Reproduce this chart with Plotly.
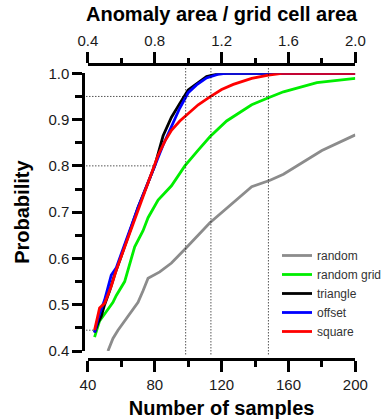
import plotly.graph_objects as go

# ---------------- data ----------------
random_x = [52, 55, 58, 61, 65, 70, 73, 76, 83, 90, 98, 113, 138, 149, 157, 165, 180, 200]
random_y = [0.40, 0.427, 0.445, 0.46, 0.478, 0.505, 0.53, 0.557, 0.571, 0.59, 0.62, 0.677,
            0.755, 0.769, 0.782, 0.80, 0.833, 0.867]

rgrid_x = [44, 47, 50, 55, 57, 62, 68, 73, 76, 82, 90, 98, 106, 113, 123, 138, 148, 157, 177, 200]
rgrid_y = [0.43, 0.465, 0.48, 0.505, 0.52, 0.55, 0.625, 0.66, 0.688, 0.726, 0.757, 0.80, 0.834,
           0.863, 0.897, 0.932, 0.947, 0.96, 0.98, 0.989]

tri_x = [44, 46, 48, 50, 53, 56, 60, 65, 70, 75, 80, 85, 90, 95, 100, 106, 111, 118, 123, 200]
tri_y = [0.44, 0.46, 0.475, 0.50, 0.53, 0.565, 0.605, 0.66, 0.71, 0.755, 0.80, 0.865, 0.905,
         0.935, 0.964, 0.98, 0.993, 0.999, 1.0, 1.0]

off_x = [44, 46, 48, 50, 54, 57, 60, 65, 70, 75, 80, 85, 90, 95, 100, 105, 111, 118, 123, 200]
off_y = [0.44, 0.47, 0.49, 0.51, 0.564, 0.58, 0.61, 0.66, 0.71, 0.755, 0.80, 0.845, 0.885,
         0.925, 0.958, 0.975, 0.99, 0.998, 1.0, 1.0]

sq_x = [44, 47, 50, 54, 57, 62, 66, 70, 75, 79, 82, 86, 90, 95, 100, 106, 113, 120, 127, 138,
        148, 156, 200]
sq_y = [0.445, 0.493, 0.503, 0.54, 0.575, 0.625, 0.665, 0.705, 0.755, 0.795, 0.823, 0.853,
        0.877, 0.897, 0.913, 0.932, 0.949, 0.965, 0.976, 0.989, 0.996, 1.0, 1.0]

series_names = ["random", "random grid", "triangle", "offset", "square"]
series_colors = ["#8c8c8c", "#00ee00", "#000000", "#0000ff", "#ff0000"]

x_range = [40, 200]
y_range = [0.4, 1.0]
x_ticks = [40, 80, 120, 160, 200]
y_ticks = [0.4, 0.5, 0.6, 0.7, 0.8, 0.9, 1.0]
top_range = [0.4, 2.0]
top_ticks = [0.4, 0.8, 1.2, 1.6, 2.0]

# reference (dotted) lines: probability levels and sample counts
ref_h = [(0.95, 148), (0.80, 79), (0.445, 44.3)]
ref_v = [98.5, 113.6, 148]

# ---------------- figure ----------------
W, H = 387, 419
FONT = "Liberation Sans, Arial, sans-serif"

fig = go.Figure()
series = [(random_x, random_y), (rgrid_x, rgrid_y), (tri_x, tri_y), (off_x, off_y), (sq_x, sq_y)]
for (xs, ys), name, col in zip(series, series_names, series_colors):
    fig.add_trace(go.Scatter(x=xs, y=ys, mode="lines", name=name,
                             line=dict(color=col, width=2.8), cliponaxis=False))

# invisible trace to activate the top axis
fig.add_trace(go.Scatter(x=top_range, y=[None, None], xaxis="x2", yaxis="y",
                         mode="lines", showlegend=False, hoverinfo="skip"))

def xdom(v):
    return (v - x_range[0]) / (x_range[1] - x_range[0])

def ydom(v):
    return (v - y_range[0]) / (y_range[1] - y_range[0])

dot = dict(color="#000000", width=1, dash="1px,2px")
for p, s in ref_h:
    fig.add_shape(type="line", xref="x domain", yref="y domain",
                  x0=-0.017, x1=xdom(s), y0=ydom(p), y1=ydom(p), line=dot)
for s in ref_v:
    fig.add_shape(type="line", xref="x domain", yref="y domain",
                  x0=xdom(s), x1=xdom(s), y0=-0.012, y1=1.019, line=dot)

tickfont = dict(family=FONT, size=15, color="#1a1a1a")
titlefont = dict(family=FONT, size=20, color="#000000", weight=700)

xdomain = [90.7 / W, 366.7 / W]
ydomain = [(H - 351) / H, (H - 73.3) / H]

axis_common = dict(showline=True, linecolor="#000000", linewidth=3, ticks="outside",
                   tickwidth=2.5, tickcolor="#000000", showgrid=False, zeroline=False,
                   tickfont=tickfont)

fig.update_layout(
    width=W, height=H,
    margin=dict(l=0, r=0, t=0, b=0),
    paper_bgcolor="white", plot_bgcolor="white",
    font=dict(family=FONT),
    xaxis=dict(domain=xdomain, range=x_range, anchor="free", position=(H - 359) / H,
               tickmode="array", tickvals=x_ticks, ticklen=11,
               minor=dict(dtick=20, tick0=40, ticklen=6, tickwidth=2.5, tickcolor="#000000", ticks="outside"),
               title=dict(text="Number of samples", font=titlefont, standoff=8),
               automargin=False, **axis_common),
    xaxis2=dict(domain=xdomain, range=top_range, overlaying="x", side="top", anchor="free",
                position=(H - 63.5) / H, tickmode="array", tickvals=top_ticks, tickformat=".1f",
                ticklen=11,
                minor=dict(dtick=0.2, tick0=0.4, ticklen=5, tickwidth=2.5, tickcolor="#000000", ticks="outside"),
                title=dict(text="Anomaly area / grid cell area", font=titlefont, standoff=3),
                automargin=False, **axis_common),
    yaxis=dict(domain=ydomain, range=y_range, anchor="free", position=86 / W,
               tickmode="array", tickvals=y_ticks, tickformat=".1f", ticklen=10,
               minor=dict(dtick=0.05, tick0=0.4, ticklen=7, tickwidth=2.5, tickcolor="#000000", ticks="outside"),
               title=dict(text="Probability", font=titlefont, standoff=12),
               automargin=False, **axis_common),
    showlegend=True,
    legend=dict(x=(286) / W, y=(H - 241) / H, xanchor="left", yanchor="top",
                bgcolor="rgba(0,0,0,0)", font=dict(family=FONT, size=12, color="#333333"),
                itemwidth=30, tracegroupgap=0),
)

fig.write_html("out.html",
               config={"displayModeBar": False},
               post_script="document.body.style.margin='0';document.body.style.overflow='hidden';")
